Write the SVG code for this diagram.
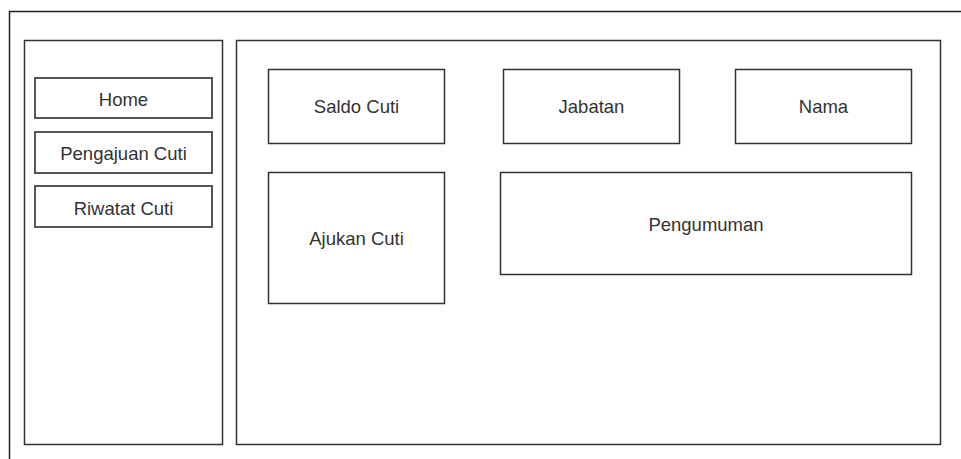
<svg xmlns="http://www.w3.org/2000/svg" width="961" height="459" viewBox="0 0 961 459">
<style>
.box{fill:#fff;stroke:#333;stroke-width:1.5}
.btn{fill:#fff;stroke:#555;stroke-width:2}
.lbl{font-family:"Liberation Sans",Arial,sans-serif;font-size:18.5px;fill:#333;text-anchor:middle}
</style>
<rect width="961" height="459" fill="#fff"/>
<g id="frame"><path d="M9.5 459V11.5H961" fill="none" stroke="#222" stroke-width="1.5"/></g>
<g id="sidebar"><rect class="box" x="24.5" y="40.5" width="198" height="404"/></g>
<g id="main"><rect class="box" x="236.5" y="40.5" width="704" height="404"/></g>
<g id="home"><rect class="btn" x="35" y="78" width="177" height="40"/><text class="lbl" x="123.5" y="106">Home</text></g>
<g id="pengajuan"><rect class="btn" x="35" y="132" width="177" height="41"/><text class="lbl" x="123.5" y="160">Pengajuan Cuti</text></g>
<g id="riwatat"><rect class="btn" x="35" y="186" width="177" height="41"/><text class="lbl" x="123.5" y="215">Riwatat Cuti</text></g>
<g id="saldo"><rect class="box" x="268.5" y="69.5" width="176" height="74"/><text class="lbl" x="356.5" y="113">Saldo Cuti</text></g>
<g id="jabatan"><rect class="box" x="503.5" y="69.5" width="176" height="74"/><text class="lbl" x="591.5" y="113">Jabatan</text></g>
<g id="nama"><rect class="box" x="735.5" y="69.5" width="176" height="74"/><text class="lbl" x="823.5" y="113">Nama</text></g>
<g id="ajukan"><rect class="box" x="268.5" y="172.5" width="176" height="131"/><text class="lbl" x="356.5" y="245">Ajukan Cuti</text></g>
<g id="pengumuman"><rect class="box" x="500.5" y="172.5" width="411" height="102"/><text class="lbl" x="706" y="231">Pengumuman</text></g>
<g id="connectors"/>
</svg>
